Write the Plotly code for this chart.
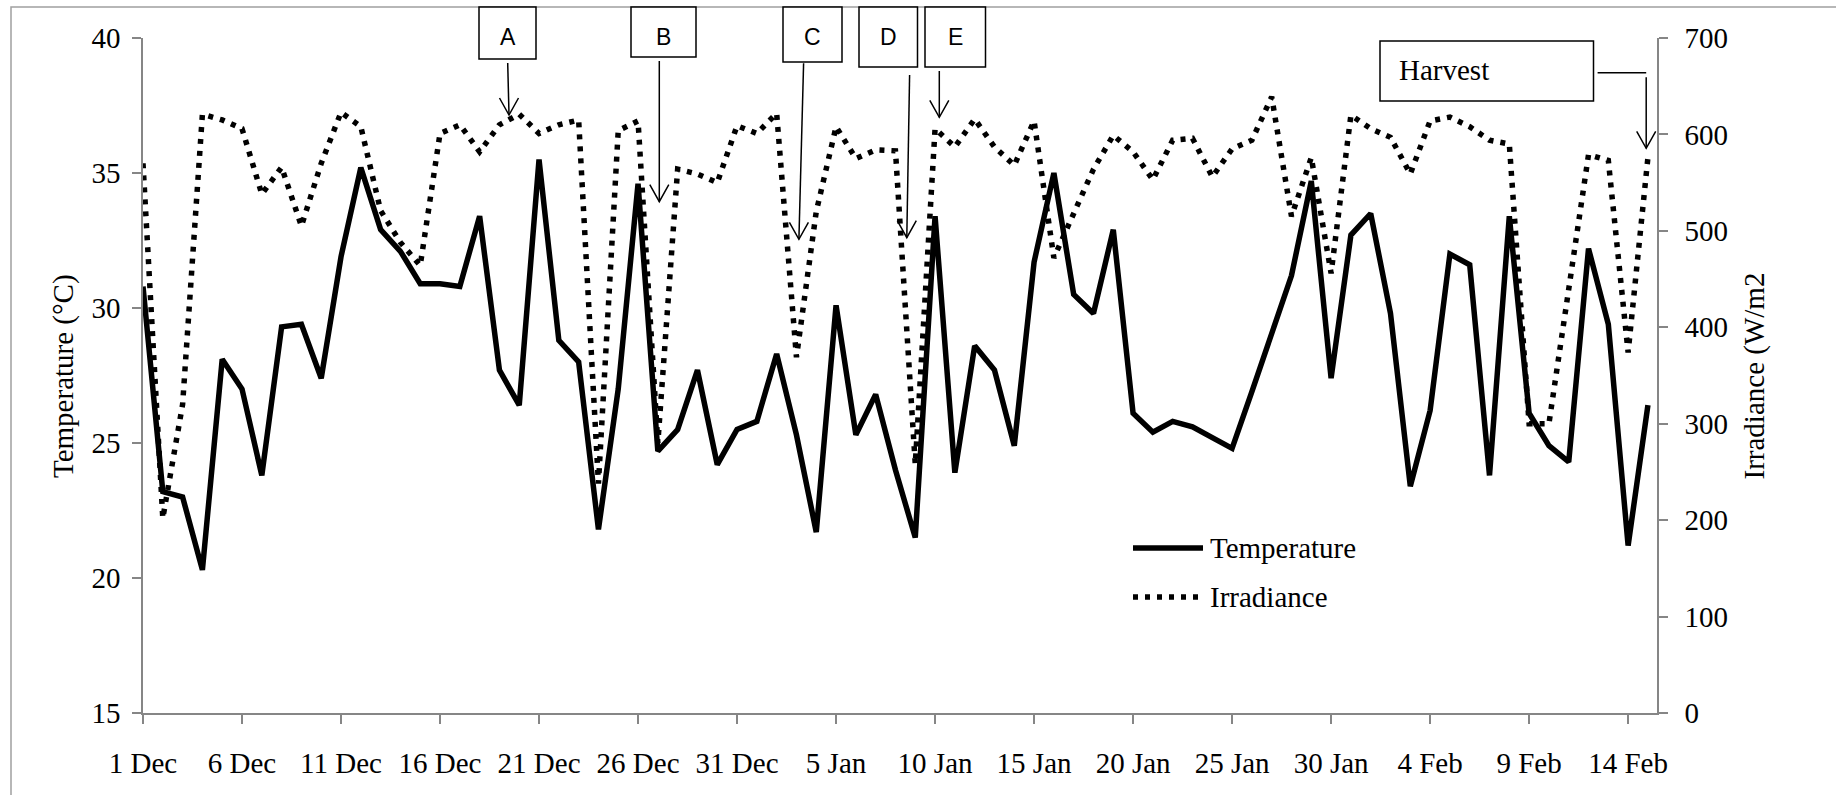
import pandas as pd
import plotly.graph_objects as go

# Daily series, 1 Dec to 15 Feb
dates = pd.date_range("2012-12-01", periods=77, freq="D")

temperature = [
    30.8, 23.2, 23.0, 20.3, 28.1, 27.0, 23.8, 29.3, 29.4, 27.4,
    31.9, 35.2, 32.9, 32.1, 30.9, 30.9, 30.8, 33.4, 27.7, 26.4,
    35.5, 28.8, 28.0, 21.8, 27.0, 34.6, 24.7, 25.5, 27.7, 24.2,
    25.5, 25.8, 28.3, 25.3, 21.7, 30.1, 25.3, 26.8, 24.0, 21.5,
    33.4, 23.9, 28.6, 27.7, 24.9, 31.7, 35.0, 30.5, 29.8, 32.9,
    26.1, 25.4, 25.8, 25.6, 25.2, 24.8, 26.9, 29.1, 31.2, 34.7,
    27.4, 32.7, 33.5, 29.8, 23.4, 26.2, 32.0, 31.6, 23.8, 33.4,
    26.1, 24.9, 24.3, 32.2, 29.4, 21.2, 26.4,
]

irradiance = [
    570, 202, 320, 621, 615, 606, 538, 566, 505, 570,
    623, 608, 521, 488, 464, 601, 610, 582, 610, 621,
    601, 610, 615, 238, 604, 614, 280, 564, 559, 550,
    609, 601, 622, 369, 520, 608, 575, 584, 583, 258,
    606, 587, 616, 587, 568, 614, 472, 518, 564, 599,
    582, 553, 594, 596, 556, 585, 594, 639, 515, 576,
    456, 620, 606, 597, 559, 614, 618, 608, 594, 590,
    300, 300, 444, 579, 573, 374, 576,
]

event_labels = ["A", "B", "C", "D", "E"]
harvest_label = "Harvest"

W, H = 1836, 795
ML, MR, MT, MB = 143, 179, 38, 82
PW, PH = W - ML - MR, H - MT - MB

SERIF = "Liberation Serif, Times New Roman, serif"
SANS = "Liberation Sans, Arial, sans-serif"
AXIS_GREY = "#868686"
LINE_W = 5.5
DOT_DASH = "5px,7px"


def px(x):
    return (x - ML) / PW


def py(y):
    return (H - MB - y) / PH


fig = go.Figure()
fig.add_trace(go.Scatter(
    x=dates, y=temperature, name="Temperature", mode="lines",
    line=dict(color="black", width=LINE_W),
))
fig.add_trace(go.Scatter(
    x=dates, y=irradiance, name="Irradiance", mode="lines", yaxis="y2",
    line=dict(color="black", width=LINE_W, dash=DOT_DASH),
))

axis_common = dict(
    showline=True, linecolor=AXIS_GREY, linewidth=1.5,
    ticks="outside", ticklen=9, tickwidth=1.5, tickcolor=AXIS_GREY,
    showgrid=False, zeroline=False,
    tickfont=dict(family=SERIF, size=29, color="black"),
)

fig.update_layout(
    width=W, height=H,
    margin=dict(l=ML, r=MR, t=MT, b=MB, pad=0),
    paper_bgcolor="white", plot_bgcolor="white",
    showlegend=False,
    xaxis=dict(
        type="date", range=["2012-12-01", "2013-02-15 11:00"],
        tick0="2012-12-01", dtick=5 * 86400000, tickformat="%-d %b",
        ticklabelstandoff=14, **axis_common,
    ),
    yaxis=dict(range=[15, 40], dtick=5, ticklabelstandoff=6, **axis_common),
    yaxis2=dict(
        range=[0, 700], dtick=100, overlaying="y", side="right",
        ticklabelstandoff=11, **axis_common,
    ),
)

shapes = []
annotations = []

# outer chart frame
shapes.append(dict(
    type="rect", xref="paper", yref="paper", layer="below",
    x0=px(11), x1=px(W + 60), y0=py(7), y1=py(H + 60),
    line=dict(color="#a0a0a0", width=1.5), fillcolor="rgba(0,0,0,0)",
))

# axis titles
annotations.append(dict(
    text="Temperature (°C)", xref="paper", yref="paper",
    x=px(63.5), y=py(376.5), textangle=-90, showarrow=False,
    xanchor="center", yanchor="middle",
    font=dict(family=SERIF, size=29, color="black"),
))
annotations.append(dict(
    text="Irradiance (W/m2", xref="paper", yref="paper",
    x=px(1754), y=py(376.5), textangle=-90, showarrow=False,
    xanchor="center", yanchor="middle",
    font=dict(family=SERIF, size=29, color="black"),
))

# event boxes: (left, right, top, bottom) and arrow (x0, y0, x1, y1)
boxes = [
    (479, 536, 7, 59, (507.7, 63, 509, 115)),
    (631, 696, 7, 57, (659.3, 61, 659.3, 201.7)),
    (783, 842, 7, 62, (803.6, 63.3, 798.9, 239.3)),
    (859, 917.5, 7, 67, (909.6, 75, 906.8, 237.7)),
    (925, 985.5, 7, 67, (939.3, 71, 939.3, 117.3)),
]


def add_arrow(x0, y0, x1, y1, head=17, half=9.5):
    shapes.append(dict(
        type="line", xref="paper", yref="paper",
        x0=px(x0), y0=py(y0), x1=px(x1), y1=py(y1),
        line=dict(color="black", width=1.5),
    ))
    path = "M {},{} L {},{} L {},{}".format(
        px(x1 - half), py(y1 - head), px(x1), py(y1), px(x1 + half), py(y1 - head))
    shapes.append(dict(
        type="path", xref="paper", yref="paper", path=path,
        line=dict(color="black", width=1.5),
    ))


for label, (l, r, t, b, arr) in zip(event_labels, boxes):
    shapes.append(dict(
        type="rect", xref="paper", yref="paper",
        x0=px(l), x1=px(r), y0=py(t), y1=py(b),
        line=dict(color="black", width=1.5), fillcolor="white",
    ))
    annotations.append(dict(
        text=label, xref="paper", yref="paper",
        x=px((l + r) / 2), y=py(37), showarrow=False,
        xanchor="center", yanchor="middle",
        font=dict(family=SANS, size=23, color="black"),
    ))
    add_arrow(*arr)

# harvest callout
shapes.append(dict(
    type="rect", xref="paper", yref="paper",
    x0=px(1380), x1=px(1593.5), y0=py(41), y1=py(101),
    line=dict(color="black", width=1.5), fillcolor="white",
))
annotations.append(dict(
    text=harvest_label, xref="paper", yref="paper",
    x=px(1397), y=py(70), showarrow=False,
    xanchor="left", yanchor="middle",
    font=dict(family=SERIF, size=29, color="black"),
))
shapes.append(dict(
    type="line", xref="paper", yref="paper",
    x0=px(1597.6), y0=py(72.7), x1=px(1646.2), y1=py(72.7),
    line=dict(color="black", width=1.5),
))
add_arrow(1646.2, 77.3, 1646.2, 148.3)

# legend
shapes.append(dict(
    type="line", xref="paper", yref="paper",
    x0=px(1133), x1=px(1203), y0=py(548), y1=py(548),
    line=dict(color="black", width=LINE_W),
))
shapes.append(dict(
    type="line", xref="paper", yref="paper",
    x0=px(1133), x1=px(1200), y0=py(597), y1=py(597),
    line=dict(color="black", width=LINE_W, dash=DOT_DASH),
))
for name, yy in (("Temperature", 548), ("Irradiance", 597)):
    annotations.append(dict(
        text=name, xref="paper", yref="paper",
        x=px(1208), y=py(yy), showarrow=False,
        xanchor="left", yanchor="middle",
        font=dict(family=SERIF, size=29, color="black"),
    ))

fig.update_layout(shapes=shapes, annotations=annotations)
fig.write_html("out.html")
